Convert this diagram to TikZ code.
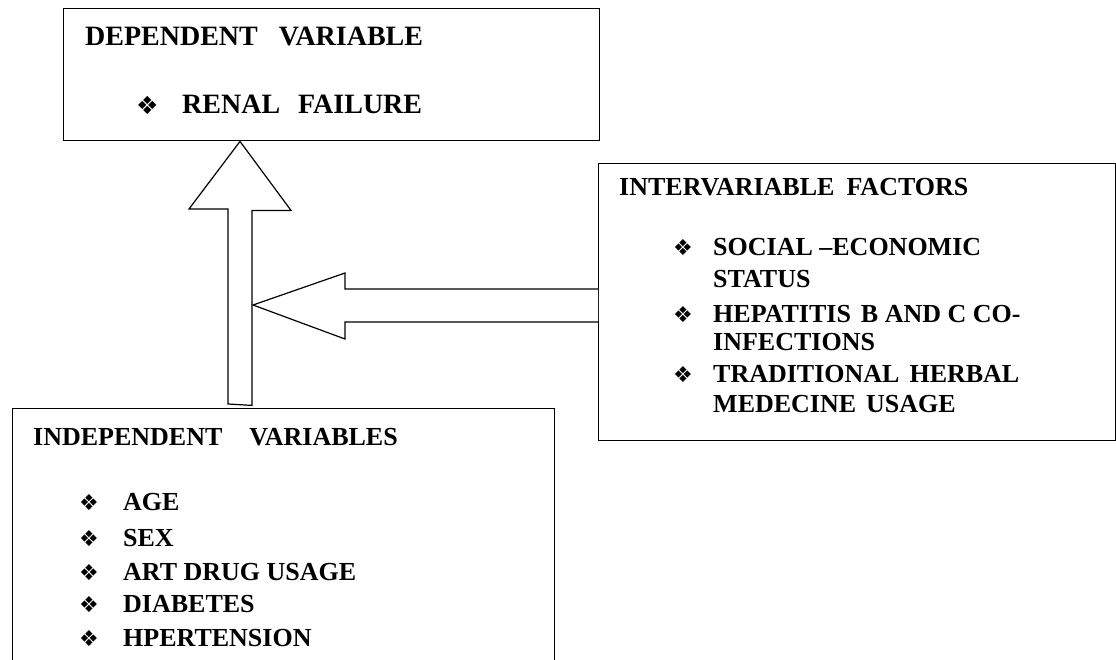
\documentclass[tikz,border=0pt]{standalone}
\usepackage{fontspec}
\setmainfont{Liberation Serif}
\newfontfamily\dejavu{DejaVu Sans}
\usetikzlibrary{calc}
\begin{document}
\begin{tikzpicture}[x=1pt,y=-1pt,
  box/.style={draw,line width=1.4pt,rectangle,inner sep=0pt,anchor=north west},
  txt/.style={anchor=base west,inner sep=0pt,font=\fontsize{26}{30}\selectfont\bfseries},
  bigtxt/.style={anchor=base west,inner sep=0pt,font=\fontsize{28}{32}\selectfont\bfseries},
  bul/.style={anchor=base west,inner sep=0pt,font=\dejavu\fontsize{22}{24}\selectfont},
  bigbul/.style={anchor=base west,inner sep=0pt,font=\dejavu\fontsize{25}{26}\selectfont},
  blk/.style={draw,line width=1.2pt,fill=white,line join=miter}]
\useasboundingbox (0,0) rectangle (1116,659);
\fill[white] (0,0) rectangle (1116,659);
% boxes
\node[box,minimum width=536pt,minimum height=132pt] (dep) at (63,8) {};
\node[box,minimum width=517pt,minimum height=277pt] (inter) at (598,163) {};
\begin{scope}
\clip (0,0) rectangle (1116,659);
\node[box,minimum width=542pt,minimum height=280pt] (indep) at (12,408) {};
\end{scope}
% connectors (block arrows)
\coordinate (uptip) at ($(dep.south west)+(177,0)$);
\coordinate (upbase) at ($(indep.north west)+(216,-4)$);
\draw[blk] (upbase) -- ++(0,-195) -- ++(-39,0) -- (uptip) -- ($(uptip)+(51,69)$) -- ++(-39,0) -- ++(0,195) -- cycle;
\coordinate (ltip) at (253,305);
\coordinate (ltail) at (inter.west |- ltip);
\draw[blk] ($(ltail)+(0,-16)$) -- (345,289) -- (345,273) -- (ltip) -- (345,339) -- (345,322) -- ($(ltail)+(0,17)$);
% dependent texts
\node[bigtxt] (d1) at (85,45) {DEPENDENT\hspace{21pt}VARIABLE};
\node[bigbul] (db1) at (136,114) {❖};
\node[bigtxt] (d2) at (182,113) {RENAL\hspace{18pt}FAILURE};
% intervariable texts
\node[txt] (i1) at (619,195) {INTERVARIABLE\hspace{12pt}FACTORS};
\node[bul] (ib1) at (673,255) {❖};
\node[txt] (i2) at (713,255) {SOCIAL –ECONOMIC};
\node[txt] (i3) at (713,287) {STATUS};
\node[bul] (ib2) at (673,322) {❖};
\node[txt] (i4) at (713,322) {HEPATITIS\hspace{10pt}B AND C CO-};
\node[txt] (i5) at (713,350) {INFECTIONS};
\node[bul] (ib3) at (673,382) {❖};
\node[txt] (i6) at (713,382) {TRADITIONAL\hspace{10pt}HERBAL};
\node[txt] (i7) at (713,412) {MEDECINE\hspace{10pt}USAGE};
% independent texts
\node[txt] (n1) at (33,445) {INDEPENDENT\hspace{27pt}VARIABLES};
\node[bul] (nb1) at (79,510) {❖};
\node[txt] (n2) at (123,510) {AGE};
\node[bul] (nb2) at (79,546) {❖};
\node[txt] (n3) at (123,546) {SEX};
\node[bul] (nb3) at (79,580) {❖};
\node[txt] (n4) at (123,580) {ART DRUG USAGE};
\node[bul] (nb4) at (79,612) {❖};
\node[txt] (n5) at (123,612) {DIABETES};
\node[bul] (nb5) at (79,646) {❖};
\node[txt] (n6) at (123,646) {HPERTENSION};
\end{tikzpicture}
\end{document}
